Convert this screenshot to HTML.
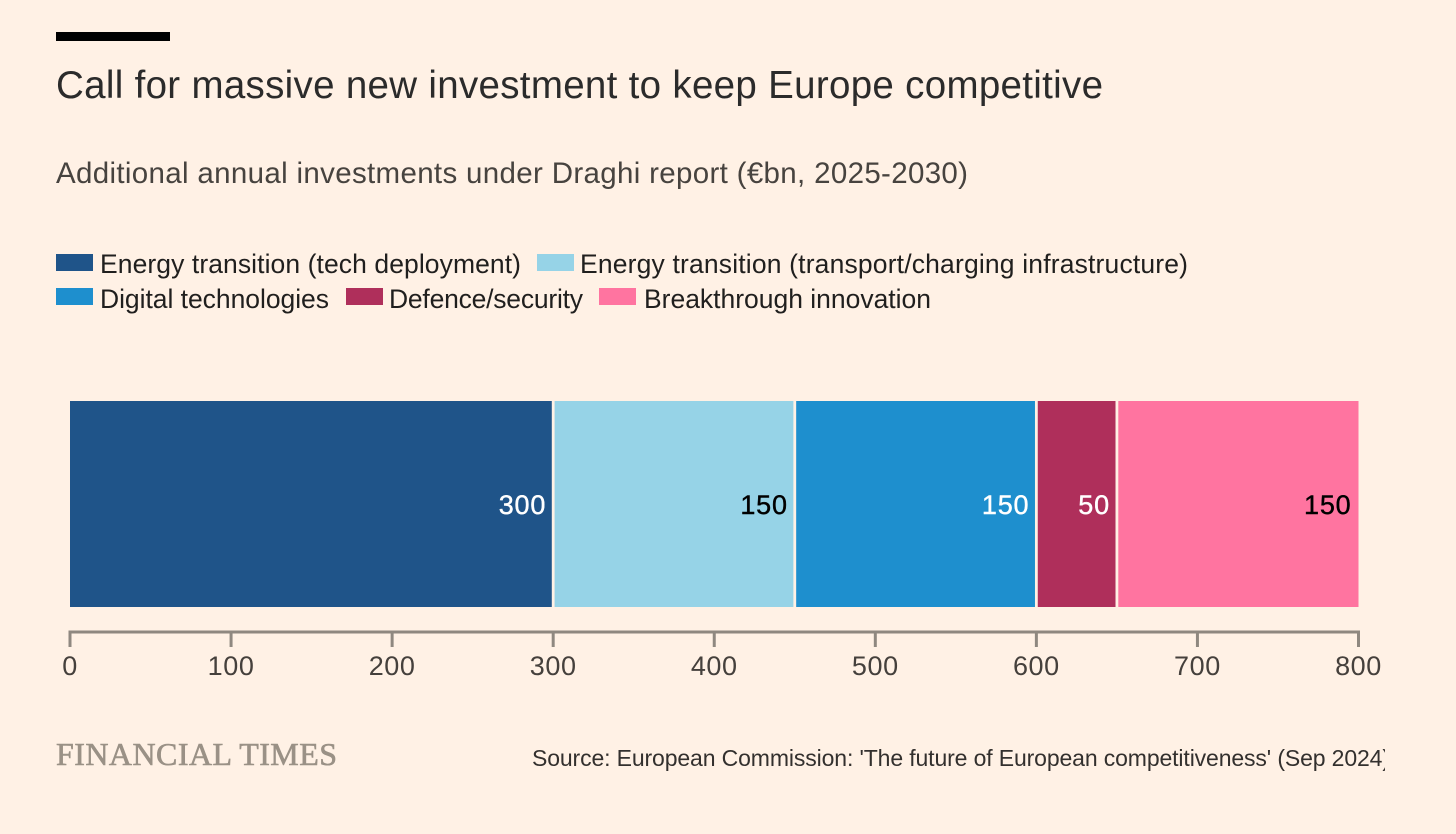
<!DOCTYPE html>
<html lang="en">
<head>
<meta charset="utf-8">
<title>Call for massive new investment to keep Europe competitive</title>
<style>
html,body{margin:0;padding:0;background:#fff1e5;}
svg{display:block;font-family:"Liberation Sans",sans-serif;}
.s0{fill:#1f5489;}
.s1{fill:#96d3e7;}
.s2{fill:#1e8fce;}
.s3{fill:#af2f5b;}
.s4{fill:#ff74a0;}
.value-label{font-size:27px;letter-spacing:0.8px;text-anchor:end;}
.tick-label{font-size:27px;letter-spacing:0.6px;fill:#45403c;text-anchor:middle;}
.legend-text{font-size:26.5px;fill:#201f1e;}
</style>
</head>
<body>
<svg id="chart" width="1456" height="834" viewBox="0 0 1456 834" xmlns="http://www.w3.org/2000/svg">
  <defs><clipPath id="source-clip"><rect x="500" y="735" width="885" height="50"/></clipPath></defs>
  <rect width="1456" height="834" fill="#fff1e5"/>
  <rect x="56" y="32" width="114" height="9" fill="#000"/>
  <text x="56" y="98" font-size="38.5" fill="#2b2b2b" textLength="1047" lengthAdjust="spacing">Call for massive new investment to keep Europe competitive</text>
  <text x="56" y="183" font-size="29.5" fill="#47433f" textLength="912" lengthAdjust="spacing">Additional annual investments under Draghi report (€bn, 2025-2030)</text>

  <g>
    <rect class="s0" x="56" y="254" width="37" height="17"/>
    <text class="legend-text" x="100" y="273" textLength="421" lengthAdjust="spacing">Energy transition (tech deployment)</text>
    <rect class="s1" x="537" y="254" width="37" height="17"/>
    <text class="legend-text" x="580" y="273" textLength="608" lengthAdjust="spacing">Energy transition (transport/charging infrastructure)</text>
    <rect class="s2" x="56" y="288" width="37" height="17"/>
    <text class="legend-text" x="100" y="308" textLength="229" lengthAdjust="spacing">Digital technologies</text>
    <rect class="s3" x="346" y="288" width="37" height="17"/>
    <text class="legend-text" x="389" y="308" textLength="194" lengthAdjust="spacing">Defence/security</text>
    <rect class="s4" x="599" y="288" width="37" height="17"/>
    <text class="legend-text" x="644" y="308" textLength="287" lengthAdjust="spacing">Breakthrough innovation</text>
  </g>

  <g id="bars"></g>
  <g id="axis"></g>

  <text x="56" y="765" font-family="'Liberation Serif',serif" font-size="32" fill="#9a9186" stroke="#9a9186" stroke-width="0.6" textLength="281" lengthAdjust="spacing">FINANCIAL TIMES</text>
  <g clip-path="url(#source-clip)">
    <text x="532" y="766" font-size="23" fill="#33302e" textLength="858" lengthAdjust="spacing">Source: European Commission: 'The future of European competitiveness' (Sep 2024)</text>
  </g>
</svg>
<script>
const categories = ["tech-deployment", "transport-charging", "digital", "defence", "breakthrough"];
const seriesValues = [300, 150, 150, 50, 150];
const valueLabels = ["300", "150", "150", "50", "150"];
const labelColors = ["#ffffff", "#000000", "#ffffff", "#ffffff", "#000000"];
const axisTicks = [0, 100, 200, 300, 400, 500, 600, 700, 800];
const axisTickLabels = ["0", "100", "200", "300", "400", "500", "600", "700", "800"];

const NS = "http://www.w3.org/2000/svg";
const domainMax = axisTicks[axisTicks.length - 1];
const plotLeft = 70, plotRight = 1358.5;
const barTop = 401, barBottom = 607;
const axisY = 632, tickEnd = 647, tickLabelY = 675;
function xScale(v) { return plotLeft + (v / domainMax) * (plotRight - plotLeft); }

const barsGroup = document.getElementById("bars");
let running = 0;
seriesValues.forEach(function (value, i) {
  const start = running;
  const end = running + value;
  running = end;
  const gapLeft = i === 0 ? 0 : 1.4;
  const gapRight = i === seriesValues.length - 1 ? 0 : 1.4;
  const x0 = xScale(start) + gapLeft;
  const x1 = xScale(end) - gapRight;

  const rect = document.createElementNS(NS, "rect");
  
  
  rect.setAttribute("class", "s" + i);
  rect.setAttribute("x", x0);
  rect.setAttribute("y", barTop);
  rect.setAttribute("width", x1 - x0);
  rect.setAttribute("height", barBottom - barTop);
  barsGroup.appendChild(rect);

  const label = document.createElementNS(NS, "text");
  
  
  label.setAttribute("class", "value-label");
  label.setAttribute("x", xScale(end) - 7);
  label.setAttribute("y", 514);
  label.setAttribute("fill", labelColors[i]);
  label.setAttribute("stroke", labelColors[i]);
  label.setAttribute("stroke-width", 0.4);
  label.textContent = valueLabels[i];
  barsGroup.appendChild(label);
});

const axisGroup = document.getElementById("axis");
const axisLine = document.createElementNS(NS, "line");


axisLine.setAttribute("x1", xScale(0) - 1.5);
axisLine.setAttribute("x2", xScale(domainMax) + 1.5);
axisLine.setAttribute("y1", axisY);
axisLine.setAttribute("y2", axisY);
axisLine.setAttribute("stroke", "#8f8880");
axisLine.setAttribute("stroke-width", 3);
axisGroup.appendChild(axisLine);

axisTicks.forEach(function (t, i) {
  const tick = document.createElementNS(NS, "line");
  
  
  tick.setAttribute("x1", xScale(t));
  tick.setAttribute("x2", xScale(t));
  tick.setAttribute("y1", axisY);
  tick.setAttribute("y2", tickEnd);
  tick.setAttribute("stroke", "#8f8880");
  tick.setAttribute("stroke-width", 3);
  axisGroup.appendChild(tick);

  const label = document.createElementNS(NS, "text");
  
  
  label.setAttribute("class", "tick-label");
  label.setAttribute("x", xScale(t));
  label.setAttribute("y", tickLabelY);
  label.textContent = axisTickLabels[i];
  axisGroup.appendChild(label);
});
</script>
</body>
</html>
